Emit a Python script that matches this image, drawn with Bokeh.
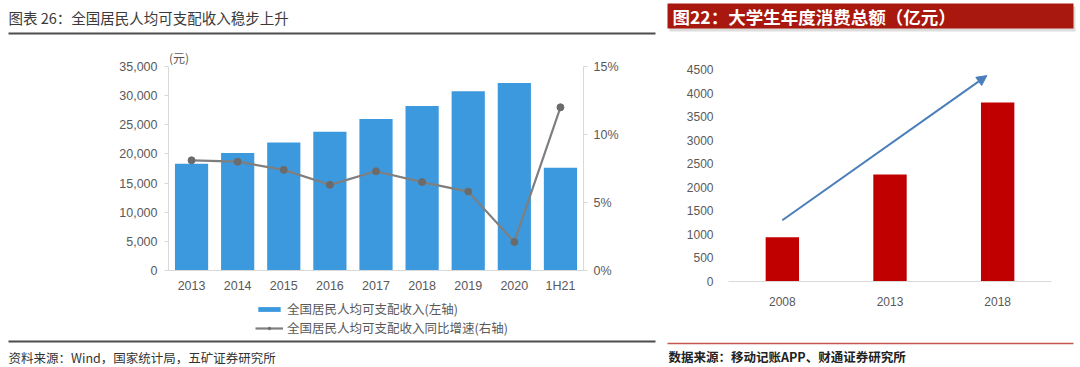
from bokeh.plotting import figure
from bokeh.models import (Range1d, LinearAxis, FactorRange, Label, BoxAnnotation, Legend,
                          LegendItem, FixedTicker, NumeralTickFormatter, PrintfTickFormatter,
                          Arrow, NormalHead)
from bokeh.layouts import row, column
from bokeh.embed import file_html
from bokeh.resources import INLINE

# ---------------- data ----------------
years = ["2013", "2014", "2015", "2016", "2017", "2018", "2019", "2020", "1H21"]
income = [18311, 20167, 21966, 23821, 25974, 28228, 30733, 32189, 17642]
growth = [8.1, 8.0, 7.4, 6.3, 7.3, 6.5, 5.8, 2.1, 12.0]
income_ticks = [0, 5000, 10000, 15000, 20000, 25000, 30000, 35000]
growth_ticks = [0, 5, 10, 15]

spend_years = ["2008", "2013", "2018"]
spend = [940, 2270, 3800]
spend_ticks = [0, 500, 1000, 1500, 2000, 2500, 3000, 3500, 4000, 4500]

CJK = "Noto Sans CJK SC"
NUM = "Liberation Sans"
GREY = "#595959"
BAR_BLUE = "#3d99dd"
LINE_GREY = "#7f7f7f"
DOT_GREY = "#6b6b6b"

LEFT_W = 660
RIGHT_W = 420
NAN = float("nan")


def base_fig(**kw):
    f = figure(output_backend="svg", toolbar_location=None, title=None, **kw)
    f.frame_align = False
    f.xgrid.visible = False
    f.ygrid.visible = False
    f.outline_line_color = None
    return f


def deco_fig(w, h):
    f = base_fig(width=w, height=h, x_range=Range1d(0, w), y_range=Range1d(h, 0),
                 min_border=0, min_border_left=0, min_border_right=0,
                 min_border_top=0, min_border_bottom=0)
    f.axis.visible = False
    return f


def box(f, l, r, t, b, color, alpha=1.0):
    f.add_layout(BoxAnnotation(left=l, right=r, top=t, bottom=b, fill_color=color,
                               fill_alpha=alpha, line_color=None))


# ---------------- left chart ----------------
headL = deco_fig(LEFT_W, 40)
headL.add_layout(Label(x=8, y=17, text="图表 26：全国居民人均可支配收入稳步上升",
                       text_align="left", text_baseline="middle", text_font=CJK,
                       text_font_size="14.5px", text_color="#3a3a3a"))
box(headL, 8, 655, 32, 34, "#4d4d4d")

# frame: page y 40..270, the value axes end at page y 66 (26 px below frame top)
top_pad = 26.0 / 204.0
p = base_fig(width=LEFT_W, height=256, x_range=FactorRange(*years),
             y_range=Range1d(0, income_ticks[-1] * (1 + top_pad)),
             min_border_left=168, min_border_right=77, min_border_top=0,
             min_border_bottom=26)
p.extra_y_ranges = {"pct": Range1d(0, growth_ticks[-1] * (1 + top_pad))}

bars = p.vbar(x=years, top=income, width=0.72, fill_color=BAR_BLUE, line_color=None)
ln = p.line(years, growth, y_range_name="pct", line_color=LINE_GREY, line_width=2.2)
pts = p.scatter(years, growth, y_range_name="pct", size=7, fill_color=DOT_GREY,
                line_color=DOT_GREY)

ya = p.yaxis[0]
ya.ticker = FixedTicker(ticks=income_ticks)
ya.bounds = (income_ticks[0], income_ticks[-1])
ya.formatter = NumeralTickFormatter(format="0,0")
ya.axis_line_color = "#d9d9d9"
ya.major_tick_line_color = "#d9d9d9"
ya.major_tick_out = 4
ya.major_tick_in = 0
ya.minor_tick_line_color = None
ya.major_label_standoff = 7
ya.major_label_text_font = NUM
ya.major_label_text_font_size = "12.5px"
ya.major_label_text_color = GREY

ra = LinearAxis(y_range_name="pct", ticker=FixedTicker(ticks=growth_ticks),
                formatter=PrintfTickFormatter(format="%d%%"),
                bounds=(growth_ticks[0], growth_ticks[-1]))
ra.axis_line_color = "#d9d9d9"
ra.major_tick_line_color = "#d9d9d9"
ra.major_tick_out = 4
ra.major_tick_in = 0
ra.minor_tick_line_color = None
ra.major_label_standoff = 6
ra.major_label_text_font = NUM
ra.major_label_text_font_size = "12.5px"
ra.major_label_text_color = GREY
p.add_layout(ra, "right")

xa = p.xaxis[0]
xa.axis_line_color = "#d9d9d9"
xa.major_tick_line_color = None
xa.major_tick_out = 0
xa.major_tick_in = 0
xa.minor_tick_line_color = None
xa.major_label_standoff = 8
xa.major_label_text_font = NUM
xa.major_label_text_font_size = "12.5px"
xa.major_label_text_color = GREY

# unit label, inside the frame (screen px from frame bottom-left)
p.add_layout(Label(x=0.5, y=213, x_units="screen", y_units="screen", text="(元)",
                   text_align="left", text_baseline="middle", text_font=CJK,
                   text_font_size="12px", text_color=GREY))

# footer with legend, rule and source
footL = deco_fig(LEFT_W, 71)
lg_bar = footL.vbar(x=[NAN], top=[NAN], width=1, fill_color=BAR_BLUE, line_color=None)
lg_line = footL.line(x=[NAN], y=[NAN], line_color=LINE_GREY, line_width=2.2)
lg_dot = footL.scatter(x=[NAN], y=[NAN], size=6, fill_color=DOT_GREY, line_color=DOT_GREY)
legend = Legend(items=[LegendItem(label="全国居民人均可支配收入(左轴)", renderers=[lg_bar]),
                       LegendItem(label="全国居民人均可支配收入同比增速(右轴)",
                                  renderers=[lg_line, lg_dot])],
                location=(255, 30), orientation="vertical", glyph_width=28, glyph_height=6,
                label_height=16, spacing=0, padding=0, margin=0, border_line_color=None,
                background_fill_alpha=0, label_text_font=CJK, label_text_font_size="12.5px",
                label_text_color=GREY, label_standoff=4)
footL.add_layout(legend, "center")
box(footL, 8, 655, 44, 46, "#4d4d4d")
footL.add_layout(Label(x=8, y=61, text="资料来源：Wind，国家统计局，五矿证券研究所",
                       text_align="left", text_baseline="middle", text_font=CJK,
                       text_font_size="12.5px", text_color="#333333"))

# ---------------- right chart ----------------
headR = deco_fig(RIGHT_W, 40)
box(headR, 9, 415, 6, 31, "#cfcfcf", 0.7)
box(headR, 7, 413, 3, 28, "#a8180e")
headR.add_layout(Label(x=12, y=16, text="图22：大学生年度消费总额（亿元）",
                       text_align="left", text_baseline="middle", text_font=CJK,
                       text_font_size="17.5px", text_font_style="bold", text_color="white"))

q = base_fig(width=RIGHT_W, height=297, x_range=FactorRange(*spend_years),
             y_range=Range1d(0, 4500),
             min_border_left=68, min_border_right=29, min_border_top=29,
             min_border_bottom=56)

q.vbar(x=spend_years, top=spend, width=0.31, fill_color="#c00000", line_color=None)

qy = q.yaxis[0]
qy.ticker = FixedTicker(ticks=spend_ticks)
qy.axis_line_color = None
qy.major_tick_line_color = None
qy.major_tick_out = 0
qy.major_tick_in = 0
qy.minor_tick_line_color = None
qy.major_label_standoff = 15
qy.major_label_text_font = NUM
qy.major_label_text_font_size = "12px"
qy.major_label_text_color = GREY

qx = q.xaxis[0]
qx.axis_line_color = "#d9d9d9"
qx.major_tick_line_color = None
qx.major_tick_out = 0
qx.major_tick_in = 0
qx.minor_tick_line_color = None
qx.major_label_standoff = 15
qx.major_label_text_font = NUM
qx.major_label_text_font_size = "12px"
qx.major_label_text_color = GREY

q.add_layout(Arrow(end=NormalHead(size=10, fill_color="#4a7ebb", line_color="#4a7ebb"),
                   x_start=0.5, y_start=1300, x_end=2.4, y_end=4370,
                   line_color="#4a7ebb", line_width=2))

footR = deco_fig(RIGHT_W, 30)
box(footR, 7, 413, 5.3, 6.8, "#c4584d")
footR.add_layout(Label(x=8, y=19, text="数据来源：移动记账APP、财通证券研究所",
                       text_align="left", text_baseline="middle", text_font=CJK,
                       text_font_size="12.5px", text_font_style="bold", text_color="#222222"))

layout = row(column(headL, p, footL), column(headR, q, footR))
open("out.html", "w").write(file_html(layout, INLINE))
